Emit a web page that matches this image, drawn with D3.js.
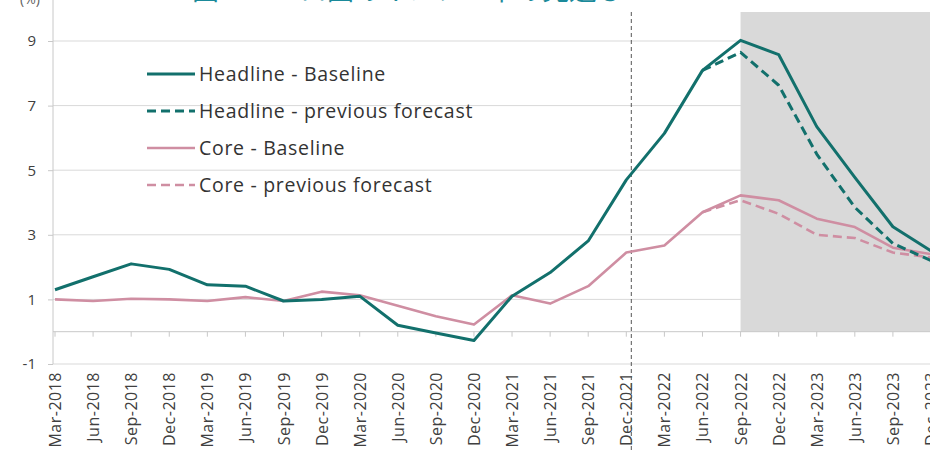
<!DOCTYPE html>
<html>
<head>
<meta charset="utf-8">
<script src="https://cdn.jsdelivr.net/npm/d3@7"></script>
<style>
  html, body { margin: 0; padding: 0; background: #fff; }
  svg { display: block; }
  text { font-family: "Open Sans", Lato, sans-serif; }
</style>
</head>
<body>
<svg id="chart" width="930" height="451"></svg>
<script>
// Quarterly categories
const categories = [
  "Mar-2018", "Jun-2018", "Sep-2018", "Dec-2018",
  "Mar-2019", "Jun-2019", "Sep-2019", "Dec-2019",
  "Mar-2020", "Jun-2020", "Sep-2020", "Dec-2020",
  "Mar-2021", "Jun-2021", "Sep-2021", "Dec-2021",
  "Mar-2022", "Jun-2022", "Sep-2022", "Dec-2022",
  "Mar-2023", "Jun-2023", "Sep-2023", "Dec-2023"
];

// Inflation, % y/y
const headlineBaseline = [1.3, 1.7, 2.1, 1.93, 1.45, 1.41, 0.95, 1.0, 1.1, 0.2, -0.04, -0.27,
  1.1, 1.83, 2.81, 4.7, 6.14, 8.09, 9.02, 8.58, 6.35, 4.78, 3.25, 2.5];
const headlinePrevious = [null, null, null, null, null, null, null, null, null, null, null, null,
  null, null, null, null, null, 8.09, 8.65, 7.63, 5.5, 3.85, 2.73, 2.2];
const coreBaseline = [1.0, 0.95, 1.02, 1.0, 0.95, 1.07, 0.95, 1.24, 1.13, 0.8, 0.48, 0.22,
  1.13, 0.87, 1.41, 2.45, 2.67, 3.7, 4.22, 4.07, 3.5, 3.24, 2.6, 2.4];
const corePrevious = [null, null, null, null, null, null, null, null, null, null, null, null,
  null, null, null, null, null, 3.7, 4.07, 3.65, 3.0, 2.9, 2.45, 2.3];

const yTicks = [-1, 1, 3, 5, 7, 9];
const legendLabels = ["Headline - Baseline", "Headline - previous forecast", "Core - Baseline", "Core - previous forecast"];
const forecastStart = "Sep-2022";
const lastActual = "Dec-2021";

const teal = "#12706c";
const pink = "#cf8ea2";

const svg = d3.select("#chart");
const W = 930, H = 451;

const x = d3.scalePoint().domain(categories).range([55, 931]);
const y = d3.scaleLinear().domain([-1, 9]).range([364, 41]);

// Forecast shading
svg.append("rect")
  .attr("x", x(forecastStart))
  .attr("y", 12)
  .attr("width", W - x(forecastStart))
  .attr("height", y(0) - 12)
  .attr("fill", "#d9d9d9");

// Horizontal gridlines
svg.append("g").selectAll("line").data(yTicks).join("line")
  .attr("x1", 53).attr("x2", W)
  .attr("y1", d => y(d)).attr("y2", d => y(d))
  .attr("stroke", "#d9d9d9").attr("stroke-width", 1);

// Category axis crossing at zero, with tick marks
svg.append("line")
  .attr("x1", 53).attr("x2", W)
  .attr("y1", y(0)).attr("y2", y(0))
  .attr("stroke", "#c8c8c8");
svg.append("g").selectAll("line").data(categories).join("line")
  .attr("x1", d => x(d)).attr("x2", d => x(d))
  .attr("y1", y(0)).attr("y2", y(0) + 5)
  .attr("stroke", "#c8c8c8");

// Value axis
const yAxis = d3.axisLeft(y).tickValues(yTicks).tickSize(5).tickPadding(12).tickFormat(d => String(d));
const gy = svg.append("g").attr("transform", "translate(53,0)").call(yAxis);
gy.select(".domain").remove();
gy.selectAll(".tick line").attr("stroke", "#c8c8c8");
gy.selectAll(".tick text").attr("fill", "#404040")
  .style("font-family", "'Open Sans', sans-serif").style("font-size", "15px");
svg.append("line")
  .attr("x1", 53).attr("x2", 53).attr("y1", 0).attr("y2", y(-1))
  .attr("stroke", "#c8c8c8");

// Unit label (top left)
svg.append("text").attr("x", 20).attr("y", 4).attr("fill", "#606060")
  .style("font-size", "14px").text("(%)");

// Title, mostly above the frame
svg.append("text").attr("x", 192).attr("y", 0)
  .attr("fill", "#1b8a9a").style("font-family", "'Noto Sans CJK JP', sans-serif")
  .style("font-size", "27px").text("図　ユーロ圏のインフレ率の見通し");

// Category labels, rotated
svg.append("g").selectAll("text").data(categories).join("text")
  .attr("transform", d => `translate(${x(d) + 6},372) rotate(-90)`)
  .attr("text-anchor", "end")
  .attr("fill", "#404040")
  .style("font-size", "16px")
  .style("letter-spacing", "0.5px")
  .text(d => d);

// Last observed quarter marker
svg.append("line")
  .attr("x1", x(lastActual) + 5).attr("x2", x(lastActual) + 5)
  .attr("y1", 12).attr("y2", H)
  .attr("stroke", "#555").attr("stroke-width", 1)
  .attr("stroke-dasharray", "4,3");

const line = d3.line()
  .defined(d => d != null)
  .x((d, i) => x(categories[i]))
  .y(d => y(d));

const series = [
  { values: corePrevious, color: pink, width: 2.6, dash: "9,5" },
  { values: coreBaseline, color: pink, width: 2.6, dash: null },
  { values: headlinePrevious, color: teal, width: 3, dash: "9,5" },
  { values: headlineBaseline, color: teal, width: 3, dash: null }
];

svg.append("g").selectAll("path").data(series).join("path")
  .attr("d", d => line(d.values))
  .attr("fill", "none")
  .attr("stroke", d => d.color)
  .attr("stroke-width", d => d.width)
  .attr("stroke-linejoin", "round")
  .attr("stroke-dasharray", d => d.dash);

// Legend
const legendItems = [
  { label: legendLabels[0], color: teal, width: 3, dash: null },
  { label: legendLabels[1], color: teal, width: 3, dash: "9,5" },
  { label: legendLabels[2], color: pink, width: 2.6, dash: null },
  { label: legendLabels[3], color: pink, width: 2.6, dash: "9,5" }
];
const lg = svg.append("g").selectAll("g").data(legendItems).join("g")
  .attr("transform", (d, i) => `translate(147,${74 + i * 37})`);
lg.append("line")
  .attr("x1", 0).attr("x2", 48)
  .attr("stroke", d => d.color).attr("stroke-width", d => d.width)
  .attr("stroke-dasharray", d => d.dash);
lg.append("text")
  .attr("x", 52).attr("y", 7)
  .attr("fill", "#333")
  .style("font-size", "19.5px")
  .style("letter-spacing", "0.7px")
  .text(d => d.label);
</script>
</body>
</html>
